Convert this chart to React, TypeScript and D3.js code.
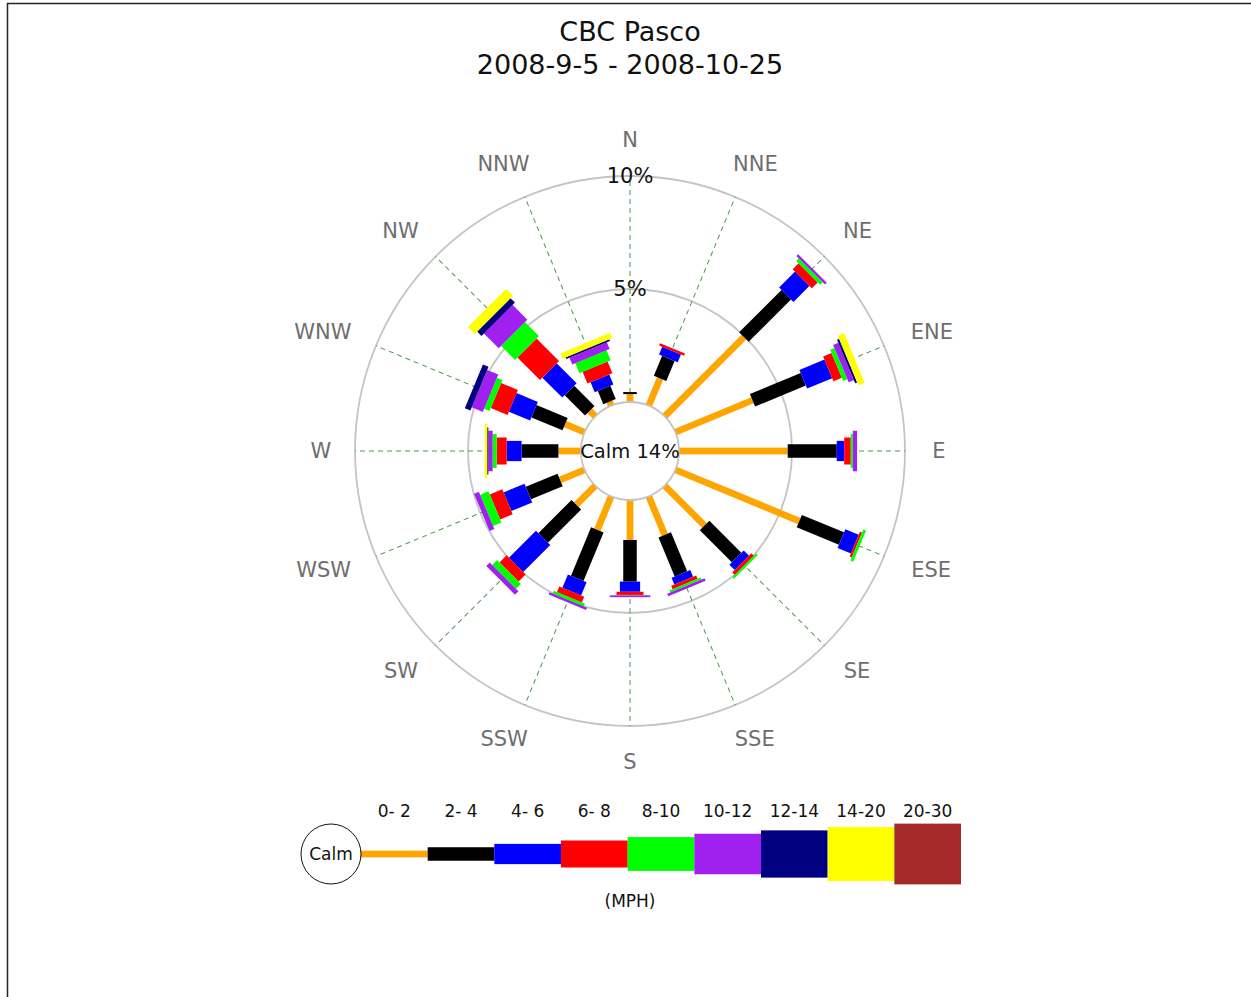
import React from "react";
import * as d3 from "d3";

// ---------- data ----------
const titleLines = ["CBC Pasco", "2008-9-5 - 2008-10-25"];
const directions = ["N", "NNE", "NE", "ENE", "E", "ESE", "SE", "SSE", "S", "SSW", "SW", "WSW", "W", "WNW", "NW", "NNW"];
const speedBins = ["0- 2", "2- 4", "4- 6", "6- 8", "8-10", "10-12", "12-14", "14-20", "20-30"];
const binColors = ["#FFA500", "#000000", "#0000FF", "#FF0000", "#00FF00", "#A020F0", "#000080", "#FFFF00", "#A52A2A"];
const calmPct = 14;
const unitLabel = "(MPH)";
const percentTicks = [5, 10];

// percent frequency per direction (N ... NNW) for each speed bin
const s0_2 = [0.35, 1.31, 4.96, 3.7, 4.81, 5.94, 2.5, 1.85, 1.77, 1.61, 1.19, 1.18, 1.0, 0.94, 0.35, 0.2];
const s2_4 = [0.09, 0.96, 2.65, 2.43, 2.17, 2.02, 2.0, 1.87, 1.84, 2.32, 2.08, 1.52, 1.63, 1.49, 1.27, 0.63];
const s4_6 = [0, 0.37, 1.0, 1.2, 0.33, 0.64, 0.33, 0.32, 0.45, 0.64, 1.69, 1.0, 0.66, 1.02, 1.25, 0.48];
const s6_8 = [0, 0.11, 0.37, 0.4, 0.29, 0.1, 0.15, 0.16, 0.14, 0.27, 0.44, 0.6, 0.44, 0.8, 1.41, 0.56];
const s8_10 = [0, 0, 0.16, 0.2, 0.09, 0.13, 0.1, 0.1, 0.02, 0.13, 0.31, 0.4, 0.18, 0.26, 0.87, 0.48];
const s10_12 = [0, 0, 0.11, 0.25, 0.19, 0, 0, 0.12, 0.08, 0.11, 0.22, 0.23, 0.19, 0.53, 0.93, 0.32];
const s12_14 = [0, 0, 0, 0.1, 0, 0, 0, 0, 0, 0, 0, 0, 0.05, 0.27, 0.27, 0.08];
const s14_20 = [0, 0, 0, 0.3, 0, 0, 0, 0, 0, 0, 0, 0, 0.11, 0, 0.43, 0.25];
const s20_30 = [0, 0, 0, 0, 0, 0, 0, 0, 0, 0, 0, 0, 0, 0, 0, 0];
const seriesValues = [s0_2, s2_4, s4_6, s6_8, s8_10, s10_12, s12_14, s14_20, s20_30];

const charW: Record<string, number> = { N: 0.748, E: 0.632, S: 0.635, W: 0.989 };

export default function App() {
  const W = 1251;
  const H = 997;
  const cx = 630;
  const cy = 451;
  const font = "'DejaVu Sans', Verdana, sans-serif";

  const r = d3.scaleLinear().domain([0, 10]).range([49, 275]);
  const angle = d3.scaleBand<string>().domain(directions).range([0, 360]);
  const barWidth = d3.scaleLinear().domain([0, speedBins.length]).range([6.75, 6.75 * (speedBins.length + 1)]);

  const rows = directions.map((d, i) => {
    const o: any = { dir: d };
    speedBins.forEach((b, k) => (o[b] = seriesValues[k][i]));
    return o;
  });
  const stacked = d3.stack<any>().keys(speedBins)(rows);

  const labelR = 311;
  const dirFont = 21;

  // legend
  const legendX = d3.scaleBand<string>().domain(speedBins).range([361, 961]);
  const legendY = 854;

  return (
    <svg
      width={W}
      height={H}
      style={{ position: "absolute", left: 0, top: 0, display: "block", background: "#fff" }}
    >
      {/* frame */}
      <line x1={7} y1={3.5} x2={W} y2={3.5} stroke="#222" strokeWidth={1.5} />
      <line x1={7.5} y1={3} x2={7.5} y2={H} stroke="#222" strokeWidth={1.5} />

      {/* title */}
      {titleLines.map((t, i) => (
        <text key={t} x={cx} y={41 + i * 33} textAnchor="middle" fontFamily={font} fontSize={27} fill="#111">
          {t}
        </text>
      ))}

      {/* grid circles */}
      {percentTicks.map((p) => (
        <circle key={p} cx={cx} cy={cy} r={r(p)} fill="none" stroke="#c4c4c4" strokeWidth={1.8} />
      ))}

      {/* spokes */}
      {directions.map((d) => (
        <line
          key={"sp" + d}
          x1={0}
          y1={-r(0)}
          x2={0}
          y2={-r(10)}
          transform={`translate(${cx},${cy}) rotate(${angle(d)})`}
          stroke="#4a9a4a"
          strokeWidth={1}
          strokeDasharray="5,4"
        />
      ))}

      {/* bars */}
      {stacked.map((series, k) =>
        series.map((seg, i) => {
          const y0 = seg[0];
          const y1 = seg[1];
          if (y1 - y0 <= 0) return null;
          const w = barWidth(k);
          const d = directions[i];
          return (
            <rect
              key={k + "-" + i}
              x={-w / 2}
              y={-r(y1)}
              width={w}
              height={r(y1) - r(y0)}
              fill={binColors[k]}
              transform={`translate(${cx},${cy}) rotate(${angle(d)})`}
            />
          );
        })
      )}

      {/* calm circle */}
      <circle cx={cx} cy={cy} r={r(0)} fill="#fff" stroke="#c4c4c4" strokeWidth={1.8} />
      <text x={cx} y={cy} dy="0.35em" textAnchor="middle" fontFamily={font} fontSize={19.5} fill="#111">
        {`Calm ${calmPct}%`}
      </text>

      {/* percent labels */}
      {percentTicks.map((p) => (
        <text key={"pl" + p} x={cx} y={cy - r(p)} dy="0.35em" textAnchor="middle" fontFamily={font} fontSize={21} fill="#111">
          {`${p}%`}
        </text>
      ))}

      {/* direction labels */}
      {directions.map((d) => {
        const a = ((angle(d) as number) * Math.PI) / 180;
        const s = Math.sin(a);
        const c = Math.cos(a);
        const tw = d.split("").reduce((acc, ch) => acc + charW[ch], 0) * dirFont;
        const cardinal = d.length === 1;
        const dx = cardinal ? -s * 2 : s * 0.75 * (tw / 2);
        return (
          <text
            key={"dl" + d}
            x={cx + labelR * s + dx}
            y={cy - labelR * c}
            dy="0.35em"
            textAnchor="middle"
            fontFamily={font}
            fontSize={dirFont}
            fill="#6e6e6e"
          >
            {d}
          </text>
        );
      })}

      {/* legend */}
      {speedBins.map((b, k) => {
        const h = barWidth(k);
        const x = legendX(b) as number;
        return (
          <g key={"lg" + b}>
            <rect x={x} y={legendY - h / 2} width={legendX.bandwidth()} height={h} fill={binColors[k]} />
            <text
              x={x + legendX.bandwidth() / 2}
              y={817}
              textAnchor="middle"
              fontFamily={font}
              fontSize={17}
              fill="#111"
            >
              {b}
            </text>
          </g>
        );
      })}
      <circle cx={331} cy={legendY} r={30} fill="#fff" stroke="#111" strokeWidth={1} />
      <text x={331} y={legendY} dy="0.35em" textAnchor="middle" fontFamily={font} fontSize={17} fill="#111">
        Calm
      </text>
      <text x={cx} y={901} dy="0.35em" textAnchor="middle" fontFamily={font} fontSize={17} fill="#111">
        {unitLabel}
      </text>
    </svg>
  );
}
